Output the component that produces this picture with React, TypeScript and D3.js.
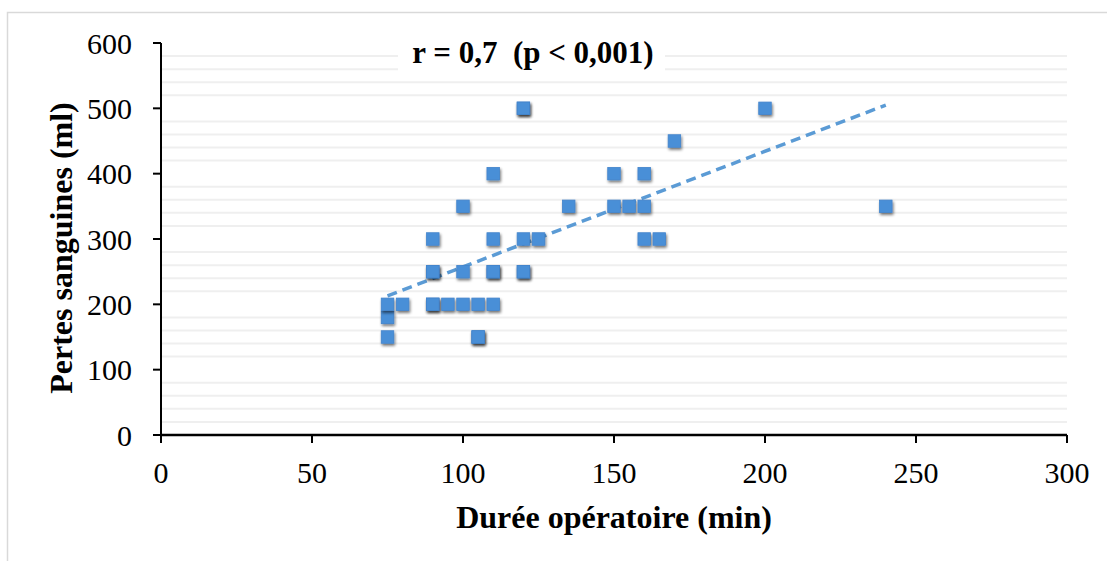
import React from "react";
import * as d3 from "d3";

const xValues: number[] = [75, 75, 75, 80, 90, 90, 90, 90, 90, 95, 100, 100, 100, 105, 105, 105, 110, 110, 110, 110, 110, 120, 120, 120, 120, 120, 125, 135, 150, 150, 155, 160, 160, 160, 165, 170, 200, 240];
const yValues: number[] = [150, 180, 200, 200, 200, 200, 250, 250, 300, 200, 200, 250, 350, 150, 150, 200, 200, 250, 250, 300, 400, 250, 250, 300, 500, 500, 300, 350, 350, 400, 350, 300, 350, 400, 300, 450, 500, 350];

const xTicks: number[] = [0, 50, 100, 150, 200, 250, 300];
const yTicks: number[] = [0, 100, 200, 300, 400, 500, 600];
const minorGrid: number[] = d3.range(0, 600, 20).filter((v) => v % 100 !== 0);

// trend line
const trendX: number[] = [75, 240];
const trendY: number[] = [213, 505];

const titleText = "r = 0,7  (p < 0,001)";
const xTitle = "Durée opératoire (min)";
const yTitle = "Pertes sanguines (ml)";

const W = 1107;
const H = 561;
const left = 161;
const right = 1067;
const top = 43;
const bottom = 435;

export default function App() {
  const x = d3.scaleLinear().domain([0, 300]).range([left, right]);
  const y = d3.scaleLinear().domain([0, 600]).range([bottom, top]);
  const line = d3
    .line<number>()
    .x((d, i) => x(trendX[i]))
    .y((d, i) => y(trendY[i]));
  const serif = "'Liberation Serif', 'Times New Roman', serif";
  const ms = 12.5;
  const points = xValues.map((v, i) => ({ x: v, y: yValues[i] }));

  return (
    <svg
      width={W}
      height={H}
      style={{ position: "absolute", left: 0, top: 0, background: "#fff" }}
      fontFamily={serif}
    >
      <defs>
        <filter id="sh" x="-50%" y="-50%" width="200%" height="200%">
          <feGaussianBlur in="SourceAlpha" stdDeviation="1.6" />
          <feOffset dx="0.5" dy="1.5" result="b" />
          <feComponentTransfer>
            <feFuncA type="linear" slope="0.55" />
          </feComponentTransfer>
          <feMerge>
            <feMergeNode />
            <feMergeNode in="SourceGraphic" />
          </feMerge>
        </filter>
      </defs>
      <rect x={7.5} y={12.5} width={W + 10} height={H + 10} fill="#fff" stroke="#d9d9d9" strokeWidth={1.5} />
      {minorGrid.map((v) => (
        <line key={v} x1={left + 1} x2={right} y1={y(v)} y2={y(v)} stroke="#efefef" strokeWidth={2} />
      ))}
      <rect x={398} y={44} width={267} height={32} fill="#fff" />
      <text
        x={533}
        y={63}
        textAnchor="middle"
        fontWeight="bold"
        fontSize={31}
        style={{ whiteSpace: "pre" }}
      >
        {titleText}
      </text>
      <path
        d={line(trendX) || ""}
        fill="none"
        stroke="#5b9bd5"
        strokeWidth={3.5}
        strokeDasharray="10 6"
      />
      {points.map((p, i) => (
        <rect
          key={i}
          x={x(p.x) - ms / 2}
          y={y(p.y) - ms / 2}
          width={ms}
          height={ms}
          fill="#4a8fd7"
          stroke="#4384cc"
          strokeWidth={0.8}
          filter="url(#sh)"
        />
      ))}
      <line x1={left} x2={left} y1={top} y2={bottom} stroke="#000" strokeWidth={2} />
      <line x1={left} x2={right} y1={bottom} y2={bottom} stroke="#000" strokeWidth={2.5} />
      {yTicks.map((v) => (
        <g key={v}>
          <line x1={left - 8} x2={left} y1={y(v)} y2={y(v)} stroke="#000" strokeWidth={2} />
          <text x={132} y={y(v)} dy="0.35em" textAnchor="end" fontSize={30}>
            {v}
          </text>
        </g>
      ))}
      {xTicks.map((v) => (
        <g key={v}>
          <line x1={x(v)} x2={x(v)} y1={bottom} y2={bottom + 8} stroke="#000" strokeWidth={2} />
          <text x={x(v)} y={483} textAnchor="middle" fontSize={30}>
            {v}
          </text>
        </g>
      ))}
      <text x={614} y={528} textAnchor="middle" fontWeight="bold" fontSize={32}>
        {xTitle}
      </text>
      <text
        transform={`translate(72,248) rotate(-90)`}
        textAnchor="middle"
        fontWeight="bold"
        fontSize={32}
      >
        {yTitle}
      </text>
    </svg>
  );
}
